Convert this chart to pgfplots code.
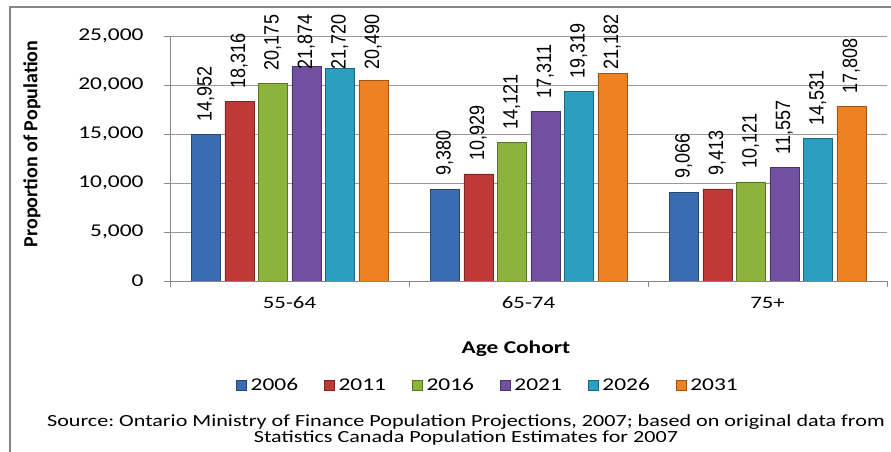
\documentclass[border=0pt]{standalone}
\usepackage{pgfplots}
\usepackage{pgfplotstable}
\pgfplotsset{compat=1.18}
\usepackage{fontspec}
\setmainfont{Carlito}[FakeStretch=1.3]
\newfontfamily\ylabfont{Carlito}
\newfontfamily\valfont{Liberation Sans}
\definecolor{axisgray}{HTML}{868686}
\definecolor{gridgray}{HTML}{9A9A9A}
\definecolor{c1}{HTML}{3A6CB2}
\definecolor{c2}{HTML}{BF3A36}
\definecolor{c3}{HTML}{8CB43C}
\definecolor{c4}{HTML}{7250A0}
\definecolor{c5}{HTML}{2C9FC0}
\definecolor{c6}{HTML}{EE8222}
\pgfplotstableread{
x a b c d e f
0 14952 18316 20175 21874 21720 20490
1 9380 10929 14121 17311 19319 21182
2 9066 9413 10121 11557 14531 17808
}\datatable
\pgfplotsset{
  barstyle/.style={draw=#1!65!black, line width=0.5pt, fill=#1},
}
\begin{document}
\begin{tikzpicture}
\useasboundingbox (0,0) rectangle (891pt,452pt);
\draw[axisgray, line width=1.5pt] (10pt,0pt) -- (10pt,445pt) -- (891pt,445pt);
\begin{axis}[
  at={(170pt,171pt)}, anchor=south west,
  scale only axis, width=717pt, height=245pt,
  xmin=-0.5, xmax=2.5, ymin=0, ymax=25000,
  ybar=4.5pt, bar width=29pt,
  axis x line*=bottom, axis y line*=left,
  axis line style={draw=axisgray, line width=0.8pt},
  tick style={draw=axisgray, line width=0.8pt},
  tick align=outside, major tick length=6pt,
  xtick={-0.5,0.5,1.5,2.5}, xticklabels={},
  extra x ticks={0,1,2}, extra x tick labels={55-64,65-74,75+},
  extra x tick style={major tick length=0pt, grid=none},
  xticklabel style={anchor=center, yshift=-22pt, font=\fontsize{17.5}{17.5}\selectfont},
  ytick={0,5000,10000,15000,20000,25000},
  scaled y ticks=false,
  ymajorgrids, grid style={gridgray, line width=0.6pt},
  yticklabel style={font=\fontsize{18}{18}\selectfont, xshift=-17pt},
  /pgf/number format/assume math mode=true,
  /pgf/number format/1000 sep={,},
  point meta=y, point meta min=0, point meta max=25000,
  nodes near coords,
  every node near coord/.append style={yshift={min(13,211-0.245*\pgfplotspointmetatransformed)}, rotate=90, yscale=1.15, anchor=west, inner sep=0pt, font=\valfont\fontsize{18}{18}\selectfont, text=black},
  legend columns=6,
  legend style={at={(0.4435,-0.4245)}, anchor=center, draw=none, fill=none, font=\fontsize{18}{18}\selectfont,
    /tikz/every odd column/.append style={column sep=2pt},
    /tikz/every even column/.append style={column sep=24pt}},
  legend image code/.code={\draw[#1] (0pt,-5pt) rectangle (10pt,5pt);},
]
\addplot[barstyle=c1] table[x=x, y=a] {\datatable};
\addplot[barstyle=c2] table[x=x, y=b] {\datatable};
\addplot[barstyle=c3] table[x=x, y=c] {\datatable};
\addplot[barstyle=c4] table[x=x, y=d] {\datatable};
\addplot[barstyle=c5] table[x=x, y=e] {\datatable};
\addplot[barstyle=c6] table[x=x, y=f] {\datatable};
\legend{2006,2011,2016,2021,2026,2031}
\end{axis}
\node[rotate=90, font=\ylabfont\bfseries\fontsize{20}{20}\selectfont] at (32pt,308pt) {Proportion of Population};
\node[font=\bfseries\fontsize{18}{18}\selectfont] at (516pt,103pt) {Age Cohort};
\node[font=\fontsize{17}{16}\selectfont, align=center] at (466pt,22pt) {Source:\ Ontario Ministry of Finance Population Projections, 2007; based on original data from\\Statistics Canada Population Estimates for 2007};
\end{tikzpicture}
\end{document}
